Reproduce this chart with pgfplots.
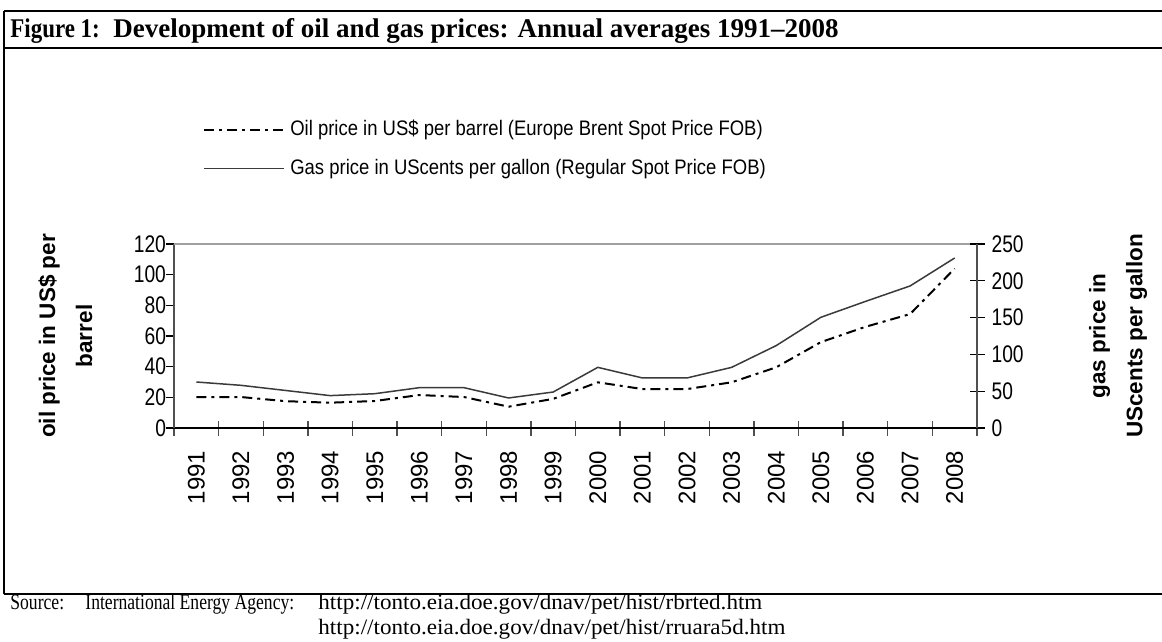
\documentclass[border=0pt]{standalone}
\usepackage{fontspec}
\setmainfont{Liberation Sans}
\newfontfamily\serifff{Liberation Serif}
\newfontfamily\serifnarrow[FakeStretch=0.8]{Liberation Serif}
\newfontfamily\serifwide[FakeStretch=1.05]{Liberation Serif}
\newfontfamily\seriftitle[FakeStretch=0.85]{Liberation Serif}
\newfontfamily\sansnarrow[FakeStretch=0.8]{Liberation Sans}
\newfontfamily\sanslegend[FakeStretch=0.88]{Liberation Sans}
\usepackage{pgfplots}
\pgfplotsset{compat=1.18}
\definecolor{axgray}{HTML}{505050}
\definecolor{topgray}{HTML}{A0A0A0}
\definecolor{gasline}{HTML}{3A3A3A}
\tikzset{
  oilstyle/.style={black, line width=1pt, dash pattern=on 5pt off 2.5pt on 1.5pt off 2.5pt},
  gasstyle/.style={gasline, line width=0.75pt, solid},
}
\begin{document}
\begin{tikzpicture}
\useasboundingbox (0pt,0pt) rectangle (581pt,-321pt);
% frame
\draw[line width=1.2pt] (2pt,-5.5pt) -- (581pt,-5.5pt);
\draw[line width=1.2pt] (2pt,-24pt) -- (581pt,-24pt);
\draw[line width=0.8pt] (2pt,-5.5pt) -- (2pt,-297pt);
\draw[line width=1pt] (2pt,-297pt) -- (581pt,-297pt);
% title
\node[anchor=base west, inner sep=0pt, font=\seriftitle\bfseries\fontsize{13.5}{15}\selectfont] at (5pt,-19pt) {Figure 1:};
\node[anchor=base west, inner sep=0pt, font=\serifff\bfseries\fontsize{13.5}{15}\selectfont] at (56.5pt,-19pt) {Development of oil and gas prices: Annual averages 1991–2008};
% source
\node[anchor=base west, inner sep=0pt, font=\serifnarrow\fontsize{11}{12}\selectfont] at (5pt,-304.5pt) {Source:};
\node[anchor=base west, inner sep=0pt, font=\serifnarrow\fontsize{11}{12}\selectfont] at (42.5pt,-304.5pt) {International Energy Agency:};
\node[anchor=base west, inner sep=0pt, font=\serifwide\fontsize{11}{12}\selectfont] at (159pt,-304.5pt) {http://tonto.eia.doe.gov/dnav/pet/hist/rbrted.htm};
\node[anchor=base west, inner sep=0pt, font=\serifwide\fontsize{11}{12}\selectfont] at (159pt,-317pt) {http://tonto.eia.doe.gov/dnav/pet/hist/rruara5d.htm};

% x axis (categories)
\begin{axis}[
  at={(87pt,-214pt)}, anchor=south west,
  scale only axis, width=401.5pt, height=92pt,
  xmin=-0.5, xmax=17.5, ymin=0, ymax=120,
  hide y axis,
  axis x line*=bottom,
  x axis line style={-, draw=black, line width=0.8pt},
  xtick pos=left,
  tick align=center,
  major tick length=7.5pt,
  xtick={-0.5,0.5,...,17.5},
  x tick label as interval,
  xticklabels={1991,1992,1993,1994,1995,1996,1997,1998,1999,2000,2001,2002,2003,2004,2005,2006,2007,2008},
  xtick style={draw=axgray, line width=0.7pt},
  xticklabel style={rotate=90, anchor=east, inner xsep=7.5pt, font=\fontsize{12}{14}\selectfont},
]
\end{axis}

% left axis: oil
\begin{axis}[
  at={(87pt,-214pt)}, anchor=south west,
  scale only axis, width=401.5pt, height=92pt,
  xmin=-0.5, xmax=17.5, ymin=0, ymax=120,
  hide x axis,
  axis y line*=left,
  ytick pos=left,
  y axis line style={-, draw=axgray, line width=1pt},
  tick align=outside, major tick length=4pt,
  ytick={0,20,40,60,80,100,120},
  ytick style={draw=black, line width=0.6pt},
  yticklabel style={xshift=3.5pt, font=\sansnarrow\fontsize{12}{14}\selectfont},
  /pgf/number format/assume math mode=true,
  ylabel={oil price in US\$ per\\barrel},
  ylabel style={at={(axis description cs:-0.1352,0.5)}, anchor=center, align=center, font=\bfseries\fontsize{11.25}{18.5}\selectfont},
  clip=false,
]
\draw[topgray, line width=0.8pt] (rel axis cs:0,1) -- (rel axis cs:1,1);
\addplot[oilstyle] coordinates {
(0,20.2) (1,20.2) (2,17.5) (3,16.5) (4,17.6) (5,21.5) (6,20.2) (7,13.9) (8,19.0)
(9,29.8) (10,25.4) (11,25.4) (12,29.8) (13,39.6) (14,56) (15,66) (16,74.3) (17,104)
};
\end{axis}

% right axis: gas
\begin{axis}[
  at={(87pt,-214pt)}, anchor=south west,
  scale only axis, width=401.5pt, height=92pt,
  xmin=-0.5, xmax=17.5, ymin=0, ymax=250,
  hide x axis,
  axis y line*=right,
  ytick pos=right, yticklabel pos=right,
  y axis line style={-, draw=axgray, line width=1pt},
  tick align=center, major tick length=7.5pt,
  ytick={0,50,100,150,200,250},
  ytick style={draw=black, line width=0.6pt},
  yticklabel style={font=\sansnarrow\fontsize{12}{14}\selectfont},
  /pgf/number format/assume math mode=true,
  ylabel={gas price in\\UScents per gallon},
  ylabel style={at={(axis description cs:1.1756,0.5)}, anchor=center, align=center, font=\bfseries\fontsize{11.25}{18.5}\selectfont},
  legend cell align=left,
  legend style={draw=none, fill=none, at={(axis description cs:0.036,1.685)}, anchor=north west,
    font=\sanslegend\fontsize{10.5}{12}\selectfont, row sep=8.2pt, column sep=1.5pt, inner sep=0pt, nodes={inner sep=1pt}},
  legend image code/.code={\draw[#1] (0pt,0pt) -- (40pt,0pt);},
  clip=false,
]
\addlegendimage{oilstyle}
\addlegendentry{Oil price in US\$ per barrel (Europe Brent Spot Price FOB)}
\addplot[gasstyle] coordinates {
(0,62.5) (1,58) (2,51) (3,44) (4,46.6) (5,54.8) (6,54.8) (7,40.8) (8,48.9)
(9,82.4) (10,68) (11,68) (12,82.4) (13,112) (14,150.4) (15,172) (16,193) (17,231)
};
\addlegendentry{Gas price in UScents per gallon (Regular Spot Price FOB)}
\end{axis}
\end{tikzpicture}
\end{document}
